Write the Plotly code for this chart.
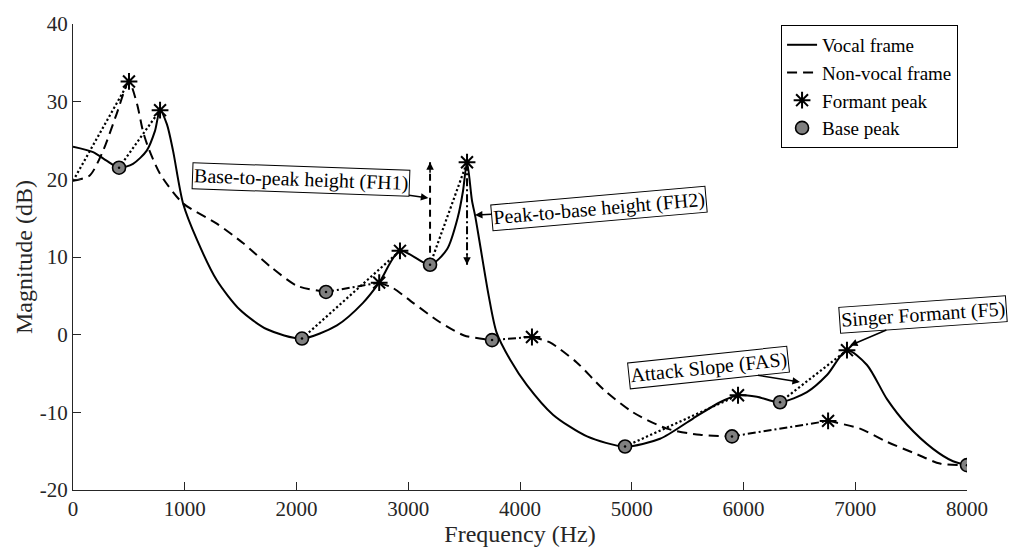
import plotly.graph_objects as go

# ---- spectrum envelopes (frequency in Hz, magnitude in dB) ----
vocal_f = [0, 180, 300, 412, 537, 660, 733, 779, 840, 895, 985, 1110, 1287, 1494,
           1736, 2049, 2362, 2595, 2740, 2926, 3195, 3347, 3445, 3490, 3526, 3570,
           3600, 3640, 3720, 3790, 3911, 4062, 4295, 4600, 4940, 5253, 5548, 5790,
           5951, 6120, 6327, 6568, 6747, 6926, 7105, 7284, 7463, 7696, 7875, 8000]
vocal_db = [24.2, 23.5, 22.4, 21.5, 22.0, 23.7, 26.2, 28.9, 27.1, 23.7, 16.9, 12.2,
            7.0, 3.2, 0.7, -0.5, 1.2, 4.1, 6.7, 10.8, 9.0, 11.0, 15.2, 18.5, 22.2,
            17.3, 15.2, 11.8, 5.0, 0.3, -3.2, -6.5, -10.3, -13.1, -14.4, -13.4,
            -10.8, -8.7, -7.8, -8.0, -8.7, -7.4, -5.2, -2.0, -3.9, -8.3, -11.6,
            -14.7, -16.3, -16.8]

nonvocal_f = [0, 150, 270, 390, 501, 573, 626, 671, 779, 985, 1287, 1521, 1763, 2004,
              2264, 2740, 2864, 3043, 3284, 3500, 3750, 4107, 4268, 4510, 4743, 5011,
              5315, 5611, 5897, 6757, 7043, 7284, 7552, 7758, 8000]
nonvocal_db = [19.8, 20.5, 23.7, 28.4, 32.6, 29.7, 26.2, 24.2, 20.7, 16.9, 14.3, 11.8,
               8.8, 6.3, 5.5, 6.7, 6.0, 4.1, 1.6, -0.1, -0.7, -0.3, -1.0, -3.6, -7.0,
               -10.0, -12.1, -12.9, -13.1, -11.1, -12.1, -13.8, -15.4, -16.6, -16.8]

# ---- detected peaks ----
formant_f = [501, 779, 2740, 2926, 3526, 4107, 5951, 6757, 6926]
formant_db = [32.6, 28.9, 6.7, 10.8, 22.2, -0.3, -7.8, -11.1, -2.0]
base_f = [412, 2049, 2264, 3195, 3750, 4940, 5897, 6327, 8000]
base_db = [21.5, -0.5, 5.5, 9.0, -0.7, -14.4, -13.1, -8.7, -16.8]

# base -> formant links (vocal: dotted, non-vocal: dash-dot)
vocal_links = [((0, 19.8), (501, 32.6)), ((412, 21.5), (779, 28.9)),
               ((2049, -0.5), (2926, 10.8)), ((3195, 9.0), (3526, 22.2)),
               ((4940, -14.4), (5951, -7.8)), ((6327, -8.7), (6926, -2.0))]
nonvocal_links = [((2264, 5.5), (2740, 6.7)), ((3750, -0.7), (4107, -0.3)),
                  ((5897, -13.1), (6757, -11.1))]

# feature measures
fh1_f, fh1_lo, fh1_hi = 3195, 9.0, 22.2
fh2_f, fh2_hi, fh2_lo = 3526, 22.2, 9.0

# axis ticks (plain hyphen for negatives)
x_ticks = [0, 1000, 2000, 3000, 4000, 5000, 6000, 7000, 8000]
y_ticks = [-20, -10, 0, 10, 20, 30, 40]
y_ticktext = ["-20", "-10", "0", "10", "20", "30", "40"]

FONT = "Liberation Serif"
TXT = "#262626"
DASH = "10px,6px"
DOT = "2.2px,2.4px"
DASHDOT = "8px,3px,2px,3px"

fig = go.Figure()

# vocal frame envelope
fig.add_trace(go.Scatter(x=vocal_f, y=vocal_db, mode="lines", name="Vocal frame",
                         line=dict(color="black", width=2, shape="spline", smoothing=0.75),
                         legendrank=1))

# non-vocal envelope, broken where dash-dot links replace it
breaks = [(l[0][0], l[1][0]) for l in nonvocal_links]
segments = []
start = 0
for a, b in breaks:
    segments.append((start, a))
    start = b
segments.append((start, 8000))
for i, (a, b) in enumerate(segments):
    xs = [f for f in nonvocal_f if a <= f <= b]
    ys = [d for f, d in zip(nonvocal_f, nonvocal_db) if a <= f <= b]
    fig.add_trace(go.Scatter(x=xs, y=ys, mode="lines", name="Non-vocal frame",
                             showlegend=(i == 0), legendrank=2,
                             line=dict(color="black", width=2, dash=DASH,
                                       shape="spline", smoothing=0.7)))

for (x0, y0), (x1, y1) in vocal_links:
    fig.add_trace(go.Scatter(x=[x0, x1], y=[y0, y1], mode="lines", showlegend=False,
                             line=dict(color="black", width=2.2, dash=DOT)))
for (x0, y0), (x1, y1) in nonvocal_links:
    fig.add_trace(go.Scatter(x=[x0, x1], y=[y0, y1], mode="lines", showlegend=False,
                             line=dict(color="black", width=2, dash=DASHDOT)))

# FH1 / FH2 vertical measures
fig.add_trace(go.Scatter(x=[fh1_f, fh1_f], y=[fh1_lo, fh1_hi], mode="lines",
                         showlegend=False,
                         line=dict(color="black", width=2, dash="7px,5px")))
fig.add_trace(go.Scatter(x=[fh2_f, fh2_f], y=[fh2_hi, fh2_lo], mode="lines",
                         showlegend=False,
                         line=dict(color="black", width=2, dash=DASHDOT)))

fig.add_trace(go.Scatter(x=formant_f, y=formant_db, mode="markers", name="Formant peak",
                         legendrank=3,
                         marker=dict(symbol="asterisk-open", size=14, color="black",
                                     line=dict(color="black", width=2))))
fig.add_trace(go.Scatter(x=base_f, y=base_db, mode="markers", name="Base peak",
                         legendrank=4,
                         marker=dict(symbol="circle", size=13, color="#808080",
                                     line=dict(color="black", width=1.6))))
fig.add_trace(go.Scatter(x=base_f, y=base_db, mode="markers", showlegend=False,
                         marker=dict(symbol="circle", size=2.5, color="black")))

# arrowheads on the vertical measures
fig.add_annotation(x=fh1_f, y=fh1_hi, ax=0, ay=12, text="", showarrow=True,
                   arrowhead=2, arrowsize=1, arrowwidth=1.5, arrowcolor="black")
fig.add_annotation(x=fh2_f, y=fh2_lo, ax=0, ay=-12, text="", showarrow=True,
                   arrowhead=2, arrowsize=1, arrowwidth=1.5, arrowcolor="black")

labels = [
    ("Base-to-peak height (FH1)", 3180, 17.6, 2040, 20.0, 2),
    ("Peak-to-base height (FH2)", 3597, 15.4, 4707, 16.2, -5),
    ("Attack Slope (FAS)", 6505, -6.1, 5691, -4.2, -6),
    ("Singer Formant (F5)", 6953, -1.4, 7606, 2.6, -4),
]
for text, x, y, ax, ay, ang in labels:
    fig.add_annotation(x=x, y=y, ax=ax, ay=ay, axref="x", ayref="y", text=text,
                       textangle=ang, showarrow=True, arrowhead=2, arrowsize=1,
                       arrowwidth=1.5, arrowcolor="black",
                       font=dict(family=FONT, size=20, color="black"),
                       bgcolor="white", bordercolor="black", borderwidth=1, borderpad=1)

fig.update_layout(
    width=1010, height=554,
    margin=dict(l=73, r=43, t=19, b=64),
    paper_bgcolor="white", plot_bgcolor="white",
    font=dict(family=FONT, color=TXT, size=21),
    showlegend=True,
    legend=dict(x=0.99, y=0.998, xanchor="right", yanchor="top",
                bgcolor="white", bordercolor="black", borderwidth=1,
                font=dict(family=FONT, size=19, color="black"),
                itemwidth=30, tracegroupgap=0),
)
fig.update_xaxes(range=[0, 8000], tickvals=x_ticks, showline=True, linecolor=TXT,
                 linewidth=1, ticks="inside", ticklen=8, tickcolor=TXT, showgrid=False,
                 zeroline=False, title=dict(text="Frequency (Hz)", font=dict(size=24),
                                            standoff=4))
fig.update_yaxes(range=[-20, 40], tickvals=y_ticks, ticktext=y_ticktext, showline=True,
                 linecolor=TXT, linewidth=1, ticks="inside", ticklen=8, tickcolor=TXT,
                 showgrid=False, zeroline=False,
                 title=dict(text="Magnitude (dB)", font=dict(size=24), standoff=0))

fig.write_html("out.html")
